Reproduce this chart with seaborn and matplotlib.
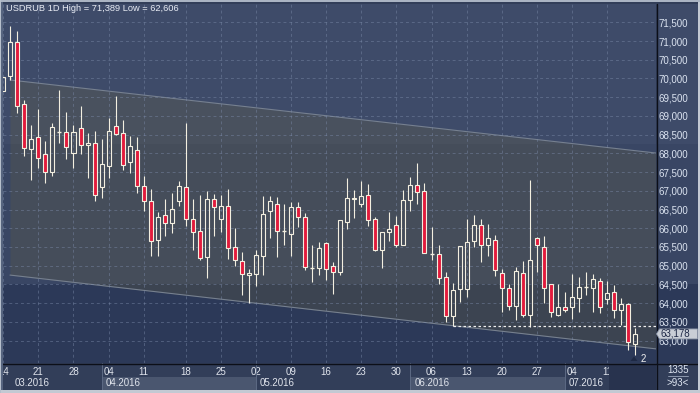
import numpy as np
import pandas as pd
import matplotlib
matplotlib.use("Agg")
import matplotlib.pyplot as plt
import seaborn as sns
from matplotlib.patches import Rectangle, Polygon
from matplotlib.transforms import Affine2D, blended_transform_factory

# --- data (USDRUB daily, 14.03.2016 - 15.07.2016) ---
opens = [69.675, 70.07, 70.965, 69.31, 68.11, 68.43, 67.98, 67.49, 68.57, 68.56,
         68.00, 68.67, 68.23, 68.27, 67.10, 67.66, 68.72, 68.54, 67.78, 68.08,
         67.12, 66.72, 65.70, 66.35, 66.13, 66.72, 67.09, 66.24, 65.92, 65.22,
         66.77, 66.26, 66.59, 65.51, 65.12, 64.74, 64.79, 65.27, 66.45, 66.64,
         65.94, 65.84, 66.56, 66.29, 64.93, 64.93, 65.60, 64.98, 64.84, 66.18,
         66.77, 66.66, 66.88, 66.24, 65.41, 65.89, 66.08, 65.56, 66.75, 67.15,
         66.99, 65.31, 65.30, 64.69, 63.66, 64.37, 64.37, 65.65, 66.08, 65.55,
         65.68, 64.80, 64.40, 63.92, 64.80, 63.68, 65.73, 65.49, 64.50, 63.69,
         63.89, 63.89, 64.13, 64.42, 64.40, 64.58, 64.10, 64.29, 63.81, 63.99,
         62.90]
highs = [70.05, 71.389, 71.27, 69.43, 68.75, 69.19, 68.32, 68.80, 69.70, 69.11,
         68.76, 69.27, 68.54, 68.60, 68.38, 68.94, 69.54, 68.89, 68.47, 68.45,
         67.39, 67.06, 66.43, 66.78, 66.95, 67.26, 68.80, 66.78, 66.89, 66.99,
         66.92, 66.89, 67.05, 66.00, 65.37, 64.92, 65.42, 66.87, 66.87, 66.84,
         66.65, 66.70, 66.69, 66.40, 65.55, 65.62, 65.62, 65.09, 66.21, 67.33,
         67.02, 67.26, 67.18, 66.30, 65.89, 66.44, 66.33, 67.02, 67.37, 67.74,
         67.20, 66.03, 65.55, 64.82, 64.53, 65.52, 66.24, 66.35, 66.24, 66.11,
         65.81, 64.90, 64.50, 64.96, 65.12, 67.28, 65.76, 65.79, 64.50, 64.50,
         64.29, 64.77, 64.69, 64.82, 64.77, 64.66, 64.58, 64.48, 64.13, 64.01,
         63.33]
lows = [69.675, 69.96, 69.09, 67.94, 67.29, 67.60, 67.21, 67.40, 68.27, 67.86,
        67.62, 67.97, 67.34, 66.73, 66.81, 67.35, 68.49, 67.56, 67.47, 66.95,
        66.46, 65.26, 65.27, 65.80, 65.88, 66.60, 66.06, 65.43, 65.14, 64.68,
        65.80, 65.90, 65.19, 65.00, 64.23, 64.01, 64.47, 64.75, 65.75, 65.22,
        65.55, 65.27, 66.04, 64.88, 64.57, 64.75, 64.62, 64.25, 64.74, 65.99,
        66.27, 66.58, 66.07, 65.38, 64.95, 65.67, 65.51, 65.56, 66.45, 66.64,
        65.33, 65.14, 64.52, 63.51, 63.39, 64.04, 64.17, 65.51, 65.11, 65.27,
        64.72, 63.77, 63.83, 63.54, 63.64, 63.37, 64.84, 64.01, 63.64, 63.67,
        63.77, 63.57, 63.76, 64.21, 63.76, 63.73, 63.99, 63.60, 63.43, 62.76,
        62.606]
closes = [70.05, 70.965, 69.256, 68.135, 68.375, 67.87, 67.49, 68.70, 68.59, 68.18,
          68.56, 68.23, 68.29, 66.90, 67.71, 68.59, 68.53, 67.68, 68.20, 67.14,
          66.72, 65.65, 66.29, 66.13, 66.51, 67.14, 66.24, 65.89, 65.20, 66.77,
          66.56, 66.59, 65.47, 65.14, 64.77, 64.80, 65.28, 66.37, 66.72, 65.94,
          65.95, 66.56, 66.29, 64.96, 64.94, 65.47, 64.91, 64.82, 66.21, 66.80,
          66.82, 66.85, 66.23, 65.41, 65.89, 65.97, 65.56, 66.75, 67.15, 66.96,
          65.33, 65.31, 64.66, 63.66, 64.34, 65.52, 65.63, 66.08, 65.55, 65.73,
          64.88, 64.40, 63.92, 64.85, 63.68, 65.14, 65.55, 64.40, 63.76, 63.89,
          63.81, 64.16, 64.42, 64.43, 64.64, 63.89, 64.26, 63.81, 63.97, 62.97,
          63.178]

day_ticks = [0, 5, 10, 15, 20, 26, 31, 36, 41, 46, 51, 56, 61, 66, 71, 76, 81, 86]
day_labels = ["14", "21", "28", "04", "11", "18", "25", "02", "09", "16",
              "23", "30", "06", "13", "20", "27", "04", "11"]
month_starts = [0, 14, 36, 58, 80]
month_labels = ["03.2016", "04.2016", "05.2016", "06.2016", "07.2016"]
price_ticks = [63.0, 63.5, 64.0, 64.5, 65.0, 65.5, 66.0, 66.5, 67.0, 67.5,
               68.0, 68.5, 69.0, 69.5, 70.0, 70.5, 71.0, 71.5]

# regression channel end points
chan_x = [0.95, 92.95]
chan_top = [69.96, 68.01]
chan_bot = [64.75, 62.78]

support_start = 64
support_level = 63.39
last_price = 63.178

df = pd.DataFrame({"open": opens, "high": highs, "low": lows, "close": closes})
df["idx"] = np.arange(len(df))

# --- style ---
sns.set_style("dark")
plt.rcParams["font.family"] = ["Liberation Sans", "DejaVu Sans"]

W, H = 700, 393
fig = plt.figure(figsize=(W / 100, H / 100), dpi=100, facecolor="#323e59")
px = Affine2D().scale(1 / W, -1 / H).translate(0, 1) + fig.transFigure

ax = fig.add_axes([3 / W, 1 - 363 / H, 653 / W, 359 / H])
ax_r = fig.add_axes([657 / W, 1 - 363 / H, 41 / W, 359 / H])
ax_r.set_zorder(-1)

xlim = (-0.043, 92.98)
ylim = (62.402, 71.989)
for a in (ax, ax_r):
    a.set_ylim(*ylim)
    a.axhspan(68.25, 72.5, color="#3e4b69", lw=0, zorder=0)
    a.axhspan(64.51, 68.25, color="#394664", lw=0, zorder=0)
    a.axhspan(62.0, 64.51, color="#2c3958", lw=0, zorder=0)
    for s in a.spines.values():
        s.set_visible(False)
ax.set_xlim(*xlim)
ax_r.set_xticks([])
ax_r.set_yticks([])

# channel
ax.fill_between(chan_x, chan_bot, chan_top, color="#6a6440", alpha=0.26, lw=0, zorder=0.5)
sns.lineplot(x=chan_x, y=chan_top, ax=ax, color="#76808f", lw=0.8, legend=False, zorder=0.6)
sns.lineplot(x=chan_x, y=chan_bot, ax=ax, color="#76808f", lw=0.8, legend=False, zorder=0.6)

# grid
grid_kw = dict(color="#7d8cab", alpha=0.45, lw=0.7, dashes=(3, 3), zorder=0.8)
for p in price_ticks:
    ax.axhline(p, **grid_kw)
for t in day_ticks:
    ax.axvline(t, **grid_kw)

# candles
edge = "#f3efe0"
red = "#e21b3c"
bw = 0.57
for _, r in df.iterrows():
    i, o, h, l, c = r["idx"], r["open"], r["high"], r["low"], r["close"]
    top, bot = max(o, c), min(o, c)
    if top - bot < 0.03:
        ax.vlines(i, l, h, color=edge, lw=0.8, zorder=2)
        ax.hlines(o, i - bw / 2, i + bw / 2, color=edge, lw=1.0, zorder=2)
        continue
    ax.vlines(i, top, h, color=edge, lw=0.8, zorder=2)
    ax.vlines(i, l, bot, color=edge, lw=0.8, zorder=2)
    face = red if c < o else "none"
    ax.bar(i, top - bot, bottom=bot, width=bw, color=face, edgecolor=edge,
           lw=0.8, zorder=3)

# support line
ax.hlines(support_level, support_start, xlim[1], color="#f0f0f0", lw=0.9,
          linestyles=(0, (2, 2)), zorder=2.5)

# axes ticks
ax.yaxis.tick_right()
ax.set_yticks(price_ticks, ["{:.3f}".format(p).replace(".", ",") for p in price_ticks])
ax.set_xticks(day_ticks, day_labels)
ax.tick_params(axis="y", length=0, pad=2.0, labelsize=7, labelcolor="#dbe3f0")
ax.tick_params(axis="x", length=0, pad=3.0, labelsize=7, labelcolor="#e0e4ec")
ax.grid(False)

# bottom month bands
bt = blended_transform_factory(ax.transData, px)
for k, (m0, lab) in enumerate(zip(month_starts, month_labels)):
    x0 = max(m0, xlim[0])
    x1 = month_starts[k + 1] if k + 1 < len(month_starts) else xlim[1]
    if k % 2 == 1:
        fig.add_artist(Rectangle((x0, 376.5), x1 - x0, 13.5, transform=bt,
                                 color="#4a566f", lw=0, zorder=1))
    if m0 > 0:
        fig.add_artist(plt.Line2D([m0, m0], [363, 390], transform=bt,
                                  color="#5d6a84", lw=0.7, zorder=1.1))
    lx = m0 + 0.55 if m0 > 0 else 1.55
    fig.text(lx, 382.5, lab, transform=bt, ha="left", va="center",
             fontsize=7, color="#e0e4ec", zorder=2)

# dark box at bottom right of time axis
fig.add_artist(Rectangle((608.5, 363.5), 47.5, 26.5, transform=px,
                         color="#28334e", lw=0, zorder=5))

# separators and frame
fig.add_artist(plt.Line2D([656.5, 656.5], [4, 390], transform=px, color="#0c0f18", lw=1.0, zorder=6))
fig.add_artist(plt.Line2D([3, 698], [363.5, 363.5], transform=px, color="#0c0f18", lw=1.0, zorder=6))
fig.add_artist(Rectangle((0, 0), 3, 393, transform=px, color="#56647f", lw=0, zorder=6))
fig.add_artist(Rectangle((0, 0), 1, 393, transform=px, color="#b6bfcc", lw=0, zorder=6.1))
fig.add_artist(Rectangle((0, 390), 700, 3, transform=px, color="#c3c9d3", lw=0, zorder=6))
fig.add_artist(Rectangle((698, 0), 2, 393, transform=px, color="#c3c9d3", lw=0, zorder=6))
fig.add_artist(Rectangle((0, 0), 700, 1.5, transform=px, color="#aab4c3", lw=0, zorder=6))

# title
fig.text(5.5, 8.5, "USDRUB 1D High = 71,389 Low = 62,606", transform=px,
         ha="left", va="center", fontsize=6.7, color="#e8ecf4", zorder=7)

# last price tag
lp_y = ax.transData.transform((0, last_price))[1]
lp_py = H - lp_y
tag = Polygon([(656.5, lp_py), (659.5, lp_py - 5), (697.5, lp_py - 5),
               (697.5, lp_py + 5), (659.5, lp_py + 5)], closed=True,
              transform=px, facecolor="#c9ced6", edgecolor="#8c96a8", lw=0.6, zorder=7)
fig.add_artist(tag)
fig.text(660.5, lp_py, "63,178", transform=px, ha="left", va="center",
         fontsize=7, color="#1d2745", zorder=8)

# marker under last candle
fig.add_artist(Polygon([(630.5, 361), (637.5, 361), (634, 356.5)], closed=True,
                       transform=px, color="#1e2944", lw=0, zorder=7))
fig.text(643.5, 358.5, "2", transform=px, ha="center", va="center",
         fontsize=7, color="#f0f0f0", zorder=7)

# bar counter box
fig.text(678, 370, "1335", transform=px, ha="center", va="center", fontsize=7,
         color="#dfe6f2", zorder=7)
fig.add_artist(plt.Line2D([668, 688], [375.5, 375.5], transform=px, color="#9aa6bb",
                          lw=0.6, zorder=7))
fig.text(678, 383, ">93<", transform=px, ha="center", va="center", fontsize=7,
         color="#dfe6f2", zorder=7)

fig.savefig("out.png", dpi=100, facecolor=fig.get_facecolor())
